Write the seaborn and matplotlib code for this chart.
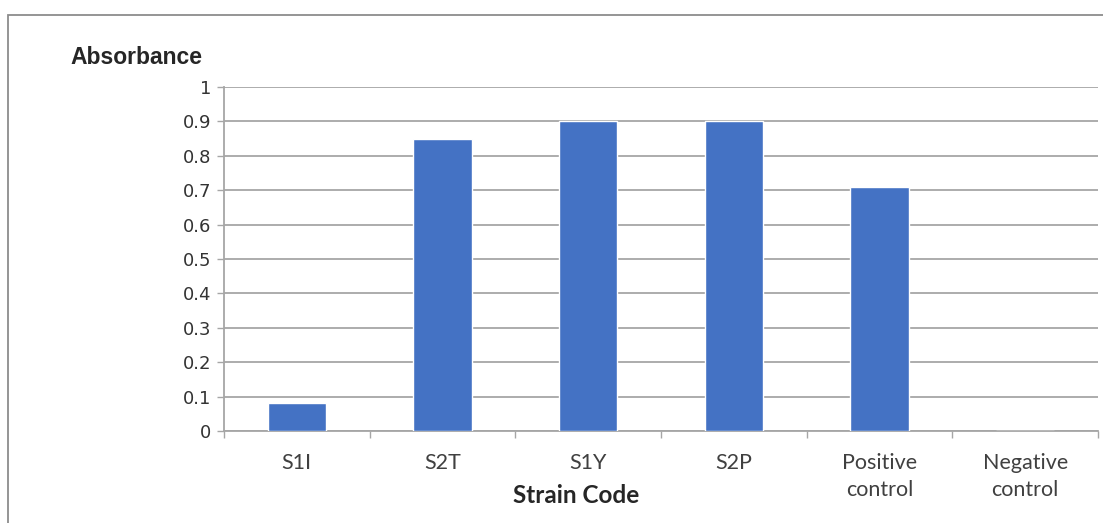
import matplotlib
matplotlib.use("Agg")
import matplotlib.pyplot as plt
import seaborn as sns
import numpy as np
from matplotlib.patches import Rectangle

categories = ["S1I", "S2T", "S1Y", "S2P", "Positive\ncontrol", "Negative\ncontrol"]
values = [0.08, 0.85, 0.90, 0.90, 0.71, 0.0]
y_ticks = [0, 0.1, 0.2, 0.3, 0.4, 0.5, 0.6, 0.7, 0.8, 0.9, 1.0]
y_tick_labels = ["0", "0.1", "0.2", "0.3", "0.4", "0.5", "0.6", "0.7", "0.8", "0.9", "1"]

sns.set_theme(style="white")
plt.rcParams['font.family'] = ['Liberation Sans', 'DejaVu Sans']

fig = plt.figure(figsize=(11.03, 5.23), dpi=100)
ax = fig.add_axes([224/1103, 1 - 431/523, (1098 - 224)/1103, (431 - 87)/523])

grid_c = "#A6A6A6"
sns.barplot(x=categories, y=values, color="#4472C4", saturation=1, width=0.4, ax=ax, zorder=3)

ax.set_ylim(0, 1)
ax.set_xlim(-0.5, len(categories) - 0.5)
ax.set_yticks(y_ticks)
ax.set_yticklabels(y_tick_labels, fontsize=13, color="#333333", family=['DejaVu Sans'])
ax.yaxis.grid(True, color=grid_c, linewidth=1.3, zorder=0)
ax.set_axisbelow(True)

for s in ["top", "right"]:
    ax.spines[s].set_visible(False)
for s in ["left", "bottom"]:
    ax.spines[s].set_color(grid_c)
    ax.spines[s].set_linewidth(1.3)

ax.tick_params(axis="y", which="major", direction="out", length=5, width=1.0, color=grid_c, pad=4, left=True)
ax.set_xticks(range(len(categories)))
ax.set_xticklabels(categories, fontsize=15.5, color="#404040", family=['Lato', 'DejaVu Sans'], linespacing=1.45)
ax.tick_params(axis="x", which="major", length=0, pad=16)
ax.set_xticks(np.arange(-0.5, len(categories), 1.0), minor=True)
ax.tick_params(axis="x", which="minor", direction="out", length=5, width=1.0, color=grid_c, bottom=True)

ax.set_xlabel("Strain Code", fontsize=17.5, fontweight="bold", family=['Lato', 'DejaVu Sans'], color="#262626")
ax.xaxis.set_label_coords((576 - 224) / 874, -0.155)
ax.set_ylabel("")
fig.text(202/1103, 1 - 58/523, "Absorbance", ha="right", va="center", fontsize=16.5, fontweight="bold", color="#262626")

fig.patches.append(Rectangle((8/1103, -0.05), 1.2, 1 - 15/523 + 0.05, transform=fig.transFigure,
                             fill=False, edgecolor="#8C8C8C", linewidth=1.3, figure=fig))

fig.savefig("out.png", dpi=100)
